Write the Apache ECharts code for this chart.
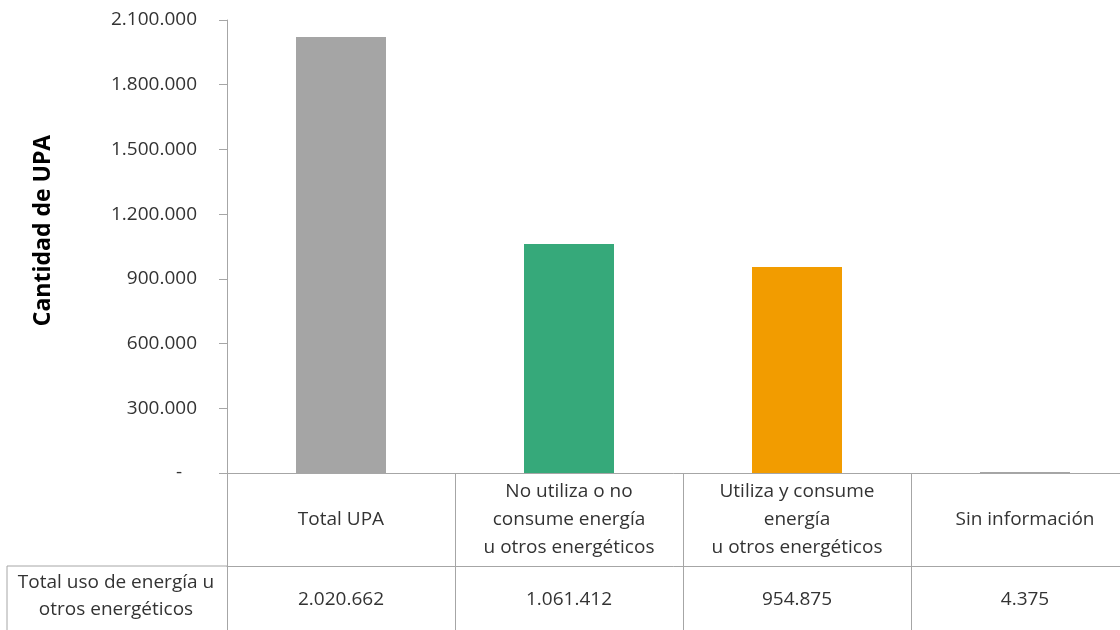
<!DOCTYPE html>
<html>
<head>
<meta charset="utf-8">
<script src="https://cdn.jsdelivr.net/npm/echarts@6/dist/echarts.min.js"></script>
<style>
  html, body { margin: 0; padding: 0; background: #fff; }
  #main { width: 1120px; height: 630px; }
</style>
</head>
<body>
<div id="main"></div>
<script>
// categorias y valores (Total uso de energía u otros energéticos)
var categorias = [
	'Total UPA',
	'No utiliza o no\nconsume energía\nu otros energéticos',
	'Utiliza y consume\nenergía\nu otros energéticos',
	'Sin información'
]
var valores = [2020662, 1061412, 954875, 4375]
var colores = ['#a5a5a5', '#36a97a', '#f29c00', '#a5a5a5']
var rowLabel = 'Total uso de energía u\notros energéticos'

var FONT = '"Open Sans", "Noto Sans", sans-serif'
var TXT = '#333333'
var LINEA = '#a6a6a6'

// formato con punto de miles
function fmt(v) {
	return String(v).replace(/\B(?=(\d{3})+(?!\d))/g, '.')
}

var chart = echarts.init(document.getElementById('main'))

var option = {
	backgroundColor: '#fff',
	animation: false,
	grid: {
		left: 227,
		right: -19,
		top: 20,
		bottom: 157,
		containLabel: false,
		outerBoundsMode: 'none'
	},
	xAxis: [
		{
			type: 'category',
			data: categorias,
			position: 'bottom',
			axisLine: { show: true, lineStyle: { color: LINEA, width: 1 } },
			axisTick: {
				show: true,
				interval: 0,
				length: 160,
				lineStyle: { color: LINEA, width: 1 }
			},
			axisLabel: {
				interval: 0,
				margin: 47,
				verticalAlign: 'middle',
				lineHeight: 28,
				color: TXT,
				fontFamily: FONT,
				fontSize: 19
			}
		},
		{
			type: 'category',
			data: valores.map(fmt),
			position: 'bottom',
			offset: 93,
			axisLine: { show: true, lineStyle: { color: LINEA, width: 1 } },
			axisTick: { show: false },
			axisLabel: {
				interval: 0,
				margin: 34,
				verticalAlign: 'middle',
				color: TXT,
				fontFamily: FONT,
				fontSize: 19
			}
		}
	],
	yAxis: {
		type: 'value',
		min: 0,
		max: 2100000,
		interval: 300000,
		name: 'Cantidad de UPA',
		nameLocation: 'middle',
		nameGap: 172,
		nameRotate: 90,
		nameTextStyle: {
			color: '#000',
			fontFamily: FONT,
			fontSize: 23,
			fontWeight: 'bold',
			padding: [0, 0, 0, 32]
		},
		axisLine: { show: true, lineStyle: { color: LINEA, width: 1 } },
		axisTick: { show: true, length: 8, lineStyle: { color: LINEA } },
		splitLine: { show: false },
		axisLabel: {
			margin: 30,
			color: TXT,
			fontFamily: FONT,
			fontSize: 19,
			formatter: function(v) {
				return v === 0 ? '-   ' : fmt(v)
			}
		}
	},
	series: [
		{
			type: 'bar',
			xAxisIndex: 0,
			barWidth: 90,
			data: valores.map(function(v, i) {
				return { value: v, itemStyle: { color: colores[i] } }
			})
		}
	],
	graphic: [
		// caja de la etiqueta de fila de la tabla
		{
			type: 'line',
			shape: { x1: 7, y1: 566, x2: 227, y2: 566 },
			style: { stroke: LINEA, lineWidth: 1 }
		},
		{
			type: 'line',
			shape: { x1: 7, y1: 566, x2: 7, y2: 630 },
			style: { stroke: LINEA, lineWidth: 1 }
		},
		{
			type: 'text',
			x: 116,
			y: 596,
			style: {
				text: rowLabel,
				fill: TXT,
				font: '19px ' + FONT,
				align: 'center',
				verticalAlign: 'middle',
				lineHeight: 27
			}
		}
	]
}

chart.setOption(option)
</script>
</body>
</html>
